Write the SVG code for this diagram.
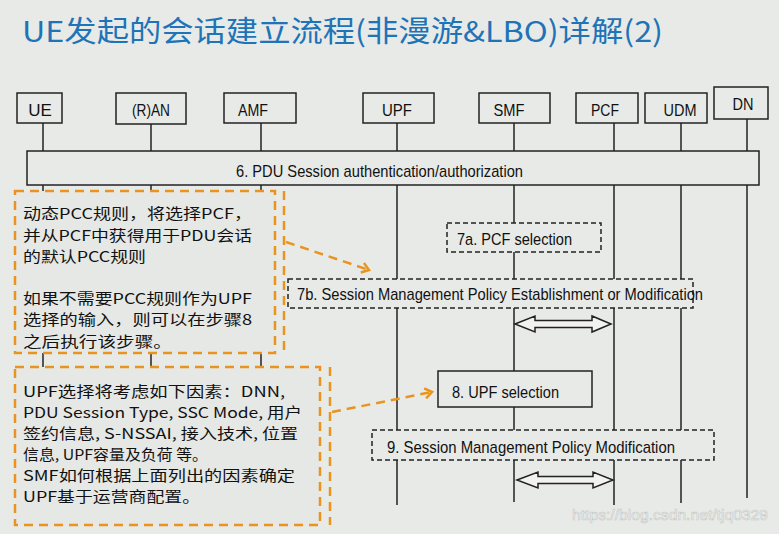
<svg xmlns="http://www.w3.org/2000/svg" width="779" height="534" viewBox="0 0 779 534">
<defs>
<style>
.bg{fill:#e8eae7}
.node{fill:#e8eae7;stroke:#222;stroke-width:1.5}
.nl{font-family:"Liberation Sans",Arial,sans-serif;font-size:17px;fill:#111;text-anchor:middle}
.life{stroke:#222;stroke-width:1.5}
.step{fill:#e8eae7;stroke:#222;stroke-width:1.5}
.dstep{fill:#e8eae7;stroke:#222;stroke-width:1.5;stroke-dasharray:5 3}
.sl{font-family:"Liberation Sans",Arial,sans-serif;font-size:17px;fill:#111}
.note{fill:#e6e8e5;stroke:#ea9420;stroke-width:2.5;stroke-dasharray:9 6}
.oline{fill:none;stroke:#ea9420;stroke-width:2.5;stroke-dasharray:9 6}
.nt{font-family:"Noto Sans CJK SC","Noto Sans",sans-serif;font-size:14.5px;fill:#111}
.dbl{fill:#f2f3f1;stroke:#222;stroke-width:1.5}
</style>
<marker id="oarrow" markerWidth="12" markerHeight="12" refX="9" refY="6" orient="auto" markerUnits="userSpaceOnUse">
<path d="M2,1 L9,6 L2,11" fill="none" stroke="#ea9420" stroke-width="2.5"/>
</marker>
</defs>
<rect class="bg" x="0" y="0" width="779" height="534"/>
<text x="22" y="42" font-family="'Noto Sans CJK SC','Microsoft YaHei',sans-serif" font-size="29" fill="#1f73b7" textLength="641" lengthAdjust="spacingAndGlyphs">UE发起的会话建立流程(非漫游&amp;LBO)详解(2)</text>

<g id="lifelines">
<line class="life" x1="43" y1="123" x2="43" y2="505"/>
<line class="life" x1="151" y1="124" x2="151" y2="505"/>
<line class="life" x1="261" y1="123" x2="261" y2="505"/>
<line class="life" x1="397" y1="123" x2="397" y2="505"/>
<line class="life" x1="514" y1="123" x2="514" y2="502"/>
<line class="life" x1="614" y1="123" x2="614" y2="505"/>
<line class="life" x1="681" y1="123" x2="681" y2="503"/>
<line class="life" x1="747" y1="119" x2="747" y2="498"/>
</g>

<g id="UE"><rect class="node" x="17" y="93" width="45" height="30"/><text class="nl" x="40" y="116">UE</text></g>
<g id="RAN"><rect class="node" x="116" y="93" width="70" height="31"/><text class="nl" x="151" y="116" textLength="38" lengthAdjust="spacingAndGlyphs">(R)AN</text></g>
<g id="AMF"><rect class="node" x="224" y="93" width="72" height="30"/><text class="nl" x="253" y="116" textLength="30" lengthAdjust="spacingAndGlyphs">AMF</text></g>
<g id="UPF"><rect class="node" x="363" y="93" width="71" height="30"/><text class="nl" x="397" y="116" textLength="30" lengthAdjust="spacingAndGlyphs">UPF</text></g>
<g id="SMF"><rect class="node" x="479" y="93" width="71" height="30"/><text class="nl" x="509" y="116" textLength="31" lengthAdjust="spacingAndGlyphs">SMF</text></g>
<g id="PCF"><rect class="node" x="576" y="93" width="62" height="30"/><text class="nl" x="605" y="116" textLength="28" lengthAdjust="spacingAndGlyphs">PCF</text></g>
<g id="UDM"><rect class="node" x="645" y="93" width="62" height="30"/><text class="nl" x="680" y="116" textLength="33" lengthAdjust="spacingAndGlyphs">UDM</text></g>
<g id="DN"><rect class="node" x="714" y="87" width="54" height="32"/><text class="nl" x="743" y="110" textLength="21" lengthAdjust="spacingAndGlyphs">DN</text></g>

<g id="step6"><rect class="step" x="27" y="151" width="732" height="34"/><text class="sl" x="236" y="177" textLength="287" lengthAdjust="spacingAndGlyphs">6. PDU Session authentication/authorization</text></g>
<g id="step7a"><rect class="dstep" x="447" y="223" width="154" height="29"/><text class="sl" x="457" y="245" textLength="115" lengthAdjust="spacingAndGlyphs">7a. PCF selection</text></g>
<g id="step7b"><rect class="dstep" x="288" y="279" width="405" height="29"/><text class="sl" x="297" y="300" textLength="406" lengthAdjust="spacingAndGlyphs">7b. Session Management Policy Establishment or Modification</text></g>
<g id="step8"><rect class="step" x="438" y="371" width="154" height="36"/><text class="sl" x="452" y="398" textLength="107" lengthAdjust="spacingAndGlyphs">8. UPF selection</text></g>
<g id="step9"><rect class="dstep" x="372" y="430" width="342" height="30"/><text class="sl" x="387" y="453" textLength="288" lengthAdjust="spacingAndGlyphs">9. Session Management Policy  Modification</text></g>

<g id="note1">
<rect class="note" x="15" y="191" width="260" height="162"/>
<line class="oline" x1="284" y1="191" x2="284" y2="353"/>
<text class="nt" x="23" y="219" textLength="229" lengthAdjust="spacingAndGlyphs">动态PCC规则，将选择PCF，</text>
<text class="nt" x="23" y="241" textLength="229" lengthAdjust="spacingAndGlyphs">并从PCF中获得用于PDU会话</text>
<text class="nt" x="23" y="262" textLength="123" lengthAdjust="spacingAndGlyphs">的默认PCC规则</text>
<text class="nt" x="23" y="304" textLength="229" lengthAdjust="spacingAndGlyphs">如果不需要PCC规则作为UPF</text>
<text class="nt" x="23" y="325" textLength="229" lengthAdjust="spacingAndGlyphs">选择的输入，则可以在步骤8</text>
<text class="nt" x="23" y="347" textLength="149" lengthAdjust="spacingAndGlyphs">之后执行该步骤。</text>
</g>

<g id="note2">
<rect class="note" x="15" y="367" width="305" height="158"/>
<line class="oline" x1="330" y1="367" x2="330" y2="525"/>
<text class="nt" x="23" y="397" textLength="262" lengthAdjust="spacingAndGlyphs">UPF选择将考虑如下因素：DNN,</text>
<text class="nt" x="23" y="418" textLength="279" lengthAdjust="spacingAndGlyphs">PDU Session Type, SSC Mode, 用户</text>
<text class="nt" x="23" y="439" textLength="275" lengthAdjust="spacingAndGlyphs">签约信息, S-NSSAI, 接入技术, 位置</text>
<text class="nt" x="23" y="460" textLength="185" lengthAdjust="spacingAndGlyphs">信息, UPF容量及负荷 等。</text>
<text class="nt" x="23" y="481" textLength="272" lengthAdjust="spacingAndGlyphs">SMF如何根据上面列出的因素确定</text>
<text class="nt" x="23" y="502" textLength="177" lengthAdjust="spacingAndGlyphs">UPF基于运营商配置。</text>
</g>

<g id="connectors">
<path class="oline" d="M286,242 L369,270" marker-end="url(#oarrow)"/>
<path class="oline" d="M332,412 L432,392" marker-end="url(#oarrow)"/>
<path class="dbl" d="M515,324 L535,316 L535,320.5 L592,320.5 L592,316 L611,324 L592,332 L592,327.5 L535,327.5 L535,332 Z"/>
<path class="dbl" d="M517,480 L538,472 L538,476.5 L593,476.5 L593,472 L613,480 L593,488 L593,483.5 L538,483.5 L538,488 Z"/>
</g>

<text x="572" y="520" font-family="'Liberation Sans',Arial,sans-serif" font-size="15" fill="#f7f7f7" stroke="#c6c8c5" stroke-width="0.6" textLength="196" lengthAdjust="spacingAndGlyphs">https://blog.csdn.net/tjq0329</text>
</svg>
